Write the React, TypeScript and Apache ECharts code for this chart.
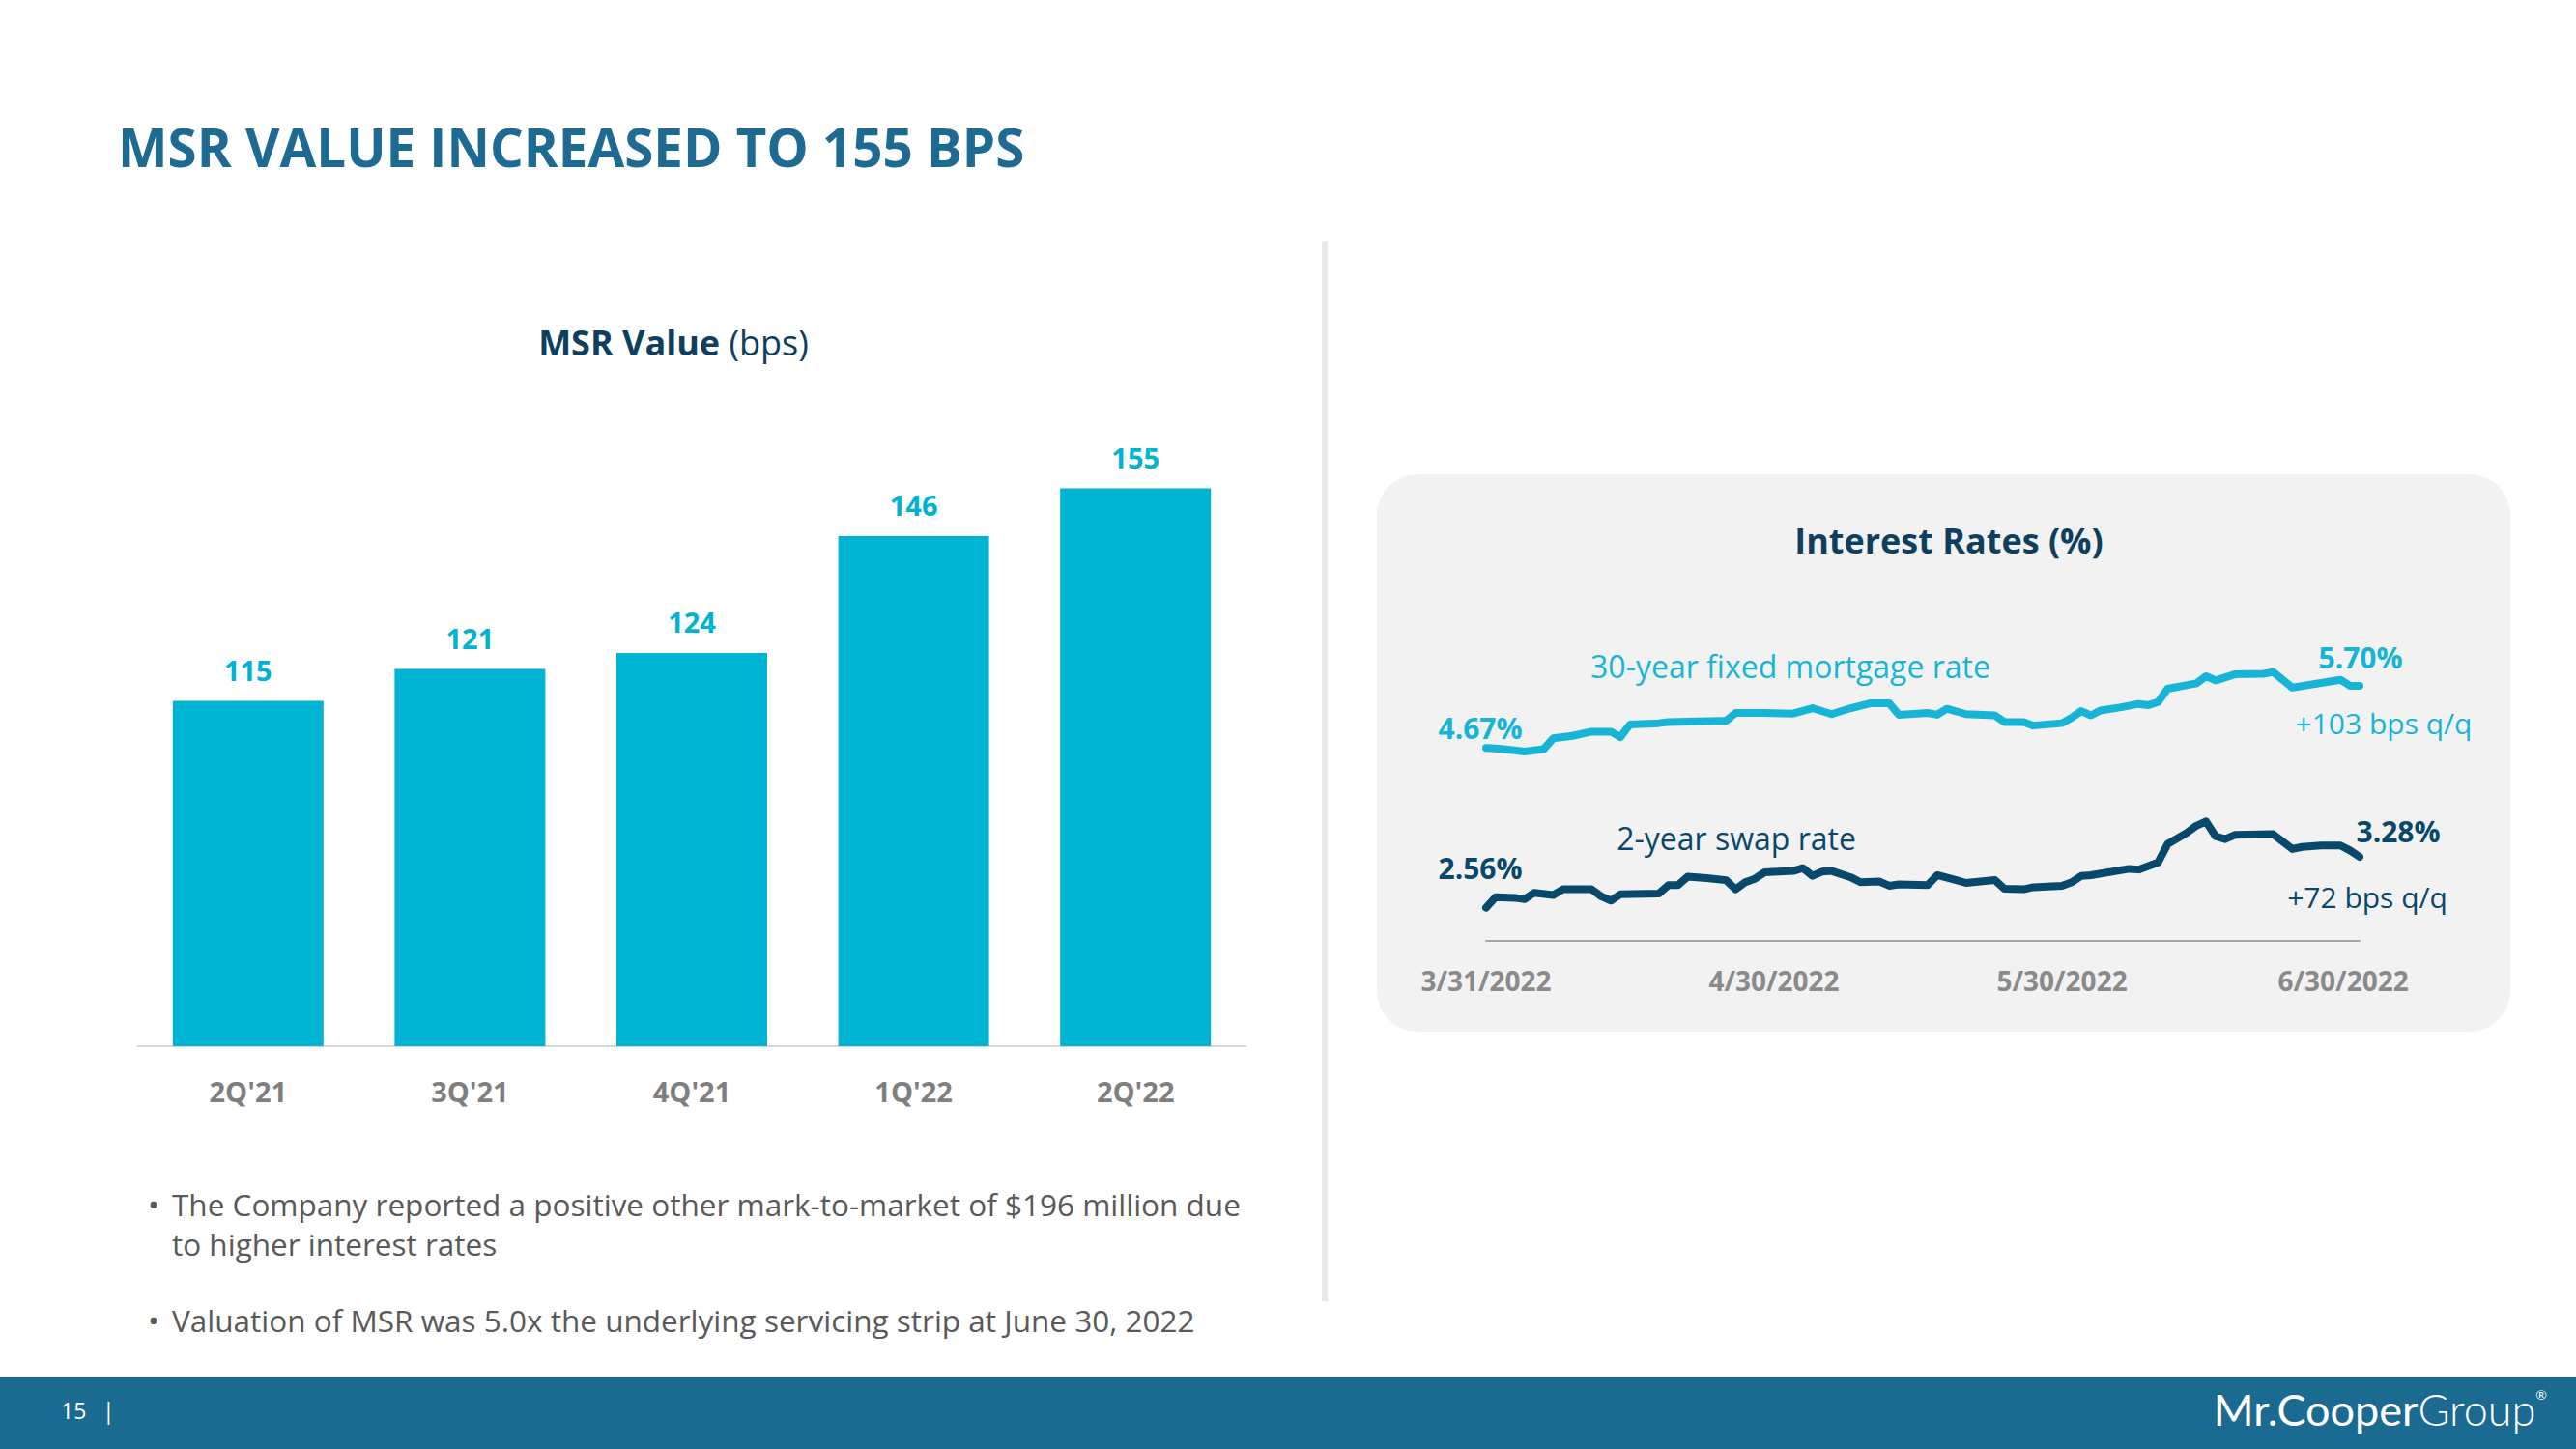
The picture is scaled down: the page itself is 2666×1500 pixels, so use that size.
import React, { useEffect, useRef } from "react";
import * as echarts from "echarts";

// ---------- data ----------
const quarters = ["2Q'21", "3Q'21", "4Q'21", "1Q'22", "2Q'22"];
const msrValues = [115, 121, 124, 146, 155];

const mortgageDates = [
  "2022-03-31", "2022-04-01", "2022-04-03", "2022-04-04", "2022-04-06", "2022-04-07",
  "2022-04-09", "2022-04-11", "2022-04-13", "2022-04-14", "2022-04-15", "2022-04-18",
  "2022-04-19", "2022-04-22", "2022-04-25", "2022-04-26", "2022-04-29", "2022-05-02",
  "2022-05-04", "2022-05-06", "2022-05-08", "2022-05-10", "2022-05-12", "2022-05-13",
  "2022-05-16", "2022-05-17", "2022-05-18", "2022-05-20", "2022-05-23", "2022-05-24",
  "2022-05-26", "2022-05-27", "2022-05-30", "2022-05-31", "2022-06-01", "2022-06-02",
  "2022-06-03", "2022-06-05", "2022-06-07", "2022-06-08", "2022-06-09", "2022-06-10",
  "2022-06-13", "2022-06-14", "2022-06-15", "2022-06-17", "2022-06-20", "2022-06-21",
  "2022-06-23", "2022-06-28", "2022-06-29", "2022-06-30",
];
const mortgageRates = [
  4.67, 4.66, 4.63, 4.61, 4.65, 4.83,
  4.87, 4.94, 4.94, 4.85, 5.06, 5.08,
  5.10, 5.11, 5.12, 5.25, 5.25, 5.24,
  5.33, 5.23, 5.33, 5.41, 5.41, 5.22,
  5.25, 5.22, 5.32, 5.23, 5.21, 5.10,
  5.10, 5.04, 5.08, 5.17, 5.28, 5.21,
  5.29, 5.34, 5.40, 5.38, 5.43, 5.65,
  5.74, 5.86, 5.79, 5.89, 5.90, 5.93,
  5.67, 5.80, 5.70, 5.70,
];

const swapDates = [
  "2022-03-31", "2022-04-01", "2022-04-03", "2022-04-04", "2022-04-05", "2022-04-07",
  "2022-04-08", "2022-04-11", "2022-04-12", "2022-04-13", "2022-04-14", "2022-04-18",
  "2022-04-19", "2022-04-20", "2022-04-21", "2022-04-23", "2022-04-25", "2022-04-26",
  "2022-04-27", "2022-04-28", "2022-04-29", "2022-05-02", "2022-05-03", "2022-05-04",
  "2022-05-05", "2022-05-06", "2022-05-08", "2022-05-09", "2022-05-11", "2022-05-12",
  "2022-05-13", "2022-05-16", "2022-05-17", "2022-05-19", "2022-05-20", "2022-05-23",
  "2022-05-24", "2022-05-26", "2022-05-27", "2022-05-30", "2022-05-31", "2022-06-01",
  "2022-06-02", "2022-06-06", "2022-06-07", "2022-06-09", "2022-06-10", "2022-06-12",
  "2022-06-13", "2022-06-14", "2022-06-15", "2022-06-16", "2022-06-17", "2022-06-21",
  "2022-06-23", "2022-06-24", "2022-06-26", "2022-06-28", "2022-06-29", "2022-06-30",
];
const swapRates = [
  2.56, 2.71, 2.70, 2.68, 2.77, 2.74,
  2.82, 2.82, 2.72, 2.66, 2.75, 2.76,
  2.88, 2.88, 3.00, 2.98, 2.95, 2.82,
  2.92, 2.97, 3.06, 3.08, 3.12, 3.01,
  3.07, 3.08, 2.99, 2.92, 2.93, 2.87,
  2.89, 2.88, 3.02, 2.95, 2.91, 2.95,
  2.83, 2.82, 2.85, 2.87, 2.92, 3.01,
  3.02, 3.11, 3.10, 3.20, 3.46, 3.62,
  3.72, 3.78, 3.57, 3.53, 3.59, 3.60,
  3.39, 3.42, 3.44, 3.44, 3.37, 3.28,
];

const dateTickLabels = ["3/31/2022", "4/30/2022", "5/30/2022", "6/30/2022"];

const bulletLines = [
  "The Company reported a positive other mark-to-market of $196 million due",
  "to higher interest rates",
  "Valuation of MSR was 5.0x the underlying servicing strip at June 30, 2022",
];

// ---------- styles ----------
const FONT = "'Open Sans', 'Noto Sans', sans-serif";
const TITLE_BLUE = "#1D6A93";
const NAVY = "#0E3F5F";
const BAR_CYAN = "#00B3D3";
const LINE_CYAN = "#17B4D7";
const SWAP_NAVY = "#07486B";
const GRAY_LABEL = "#8A8A8A";
const FOOTER = "#1B6A91";

const BASE_DAY = Date.UTC(2022, 2, 31);
const dayOffset = (d: string) => (Date.parse(d + "T00:00:00Z") - BASE_DAY) / 86400000;

function txt(x: number, y: number, text: string, font: string, fill: string, align = "left", extra: any = {}) {
  return {
    type: "text",
    x,
    y,
    z: 10,
    style: { text, font, fill, textAlign: align, textVerticalAlign: "middle", ...extra },
  };
}

export default function App() {
  const ref = useRef<HTMLDivElement>(null);

  useEffect(() => {
    if (!ref.current) return;
    const chart = echarts.init(ref.current, undefined, { renderer: "svg" });

    const mortgageData = mortgageDates.map((d, i) => [dayOffset(d), mortgageRates[i]]);
    const swapData = swapDates.map((d, i) => [dayOffset(d), swapRates[i]]);

    const option: any = {
      animation: false,
      backgroundColor: "#ffffff",
      textStyle: { fontFamily: FONT },
      grid: [
        { left: 142, top: 423, width: 1148, height: 660 },
        { left: 1538, top: 650, width: 904, height: 324 },
      ],
      xAxis: [
        {
          gridIndex: 0,
          type: "category",
          data: quarters,
          axisLine: { show: true, lineStyle: { color: "#D9D9D9", width: 2 } },
          axisTick: { show: false },
          axisLabel: { fontFamily: FONT, fontSize: 29, fontWeight: "bold", color: "#7F7F7F", margin: 32 },
        },
        {
          gridIndex: 1,
          type: "value",
          min: 0,
          max: 91,
          interval: 30,
          splitLine: { show: false },
          axisLine: { show: true, onZero: false, lineStyle: { color: "#A6A6A6", width: 2 } },
          axisTick: { show: false },
          axisLabel: {
            fontFamily: FONT,
            fontSize: 28,
            fontWeight: "bold",
            color: GRAY_LABEL,
            margin: 27,
            formatter: (v: number) => {
              if (v % 30 !== 0) return "";
              const i = Math.round(v / 30);
              const s = dateTickLabels[i] ?? "";
              return i === dateTickLabels.length - 1 ? `{last|${s}}` : s;
            },
            rich: {
              last: {
                fontFamily: FONT,
                fontSize: 28,
                fontWeight: "bold",
                color: GRAY_LABEL,
                padding: [0, 14, 6, 0],
              },
            },
          },
        },
      ],
      yAxis: [
        { gridIndex: 0, type: "value", min: 50, max: 170, show: false, splitLine: { show: false } },
        { gridIndex: 1, type: "value", min: 1.47, max: 6.66, show: false, splitLine: { show: false } },
        { gridIndex: 1, type: "value", min: 2.09, max: 6.52, show: false, splitLine: { show: false } },
      ],
      series: [
        {
          type: "bar",
          xAxisIndex: 0,
          yAxisIndex: 0,
          data: msrValues,
          barWidth: 156,
          itemStyle: { color: BAR_CYAN },
          label: {
            show: true,
            position: "top",
            distance: 18,
            fontFamily: FONT,
            fontSize: 29,
            fontWeight: "bold",
            color: BAR_CYAN,
          },
        },
        {
          type: "line",
          name: "30-year fixed mortgage rate",
          xAxisIndex: 1,
          yAxisIndex: 1,
          data: mortgageData,
          showSymbol: false,
          symbol: "none",
          lineStyle: { color: LINE_CYAN, width: 8, cap: "round", join: "round" },
          z: 5,
        },
        {
          type: "line",
          name: "2-year swap rate",
          xAxisIndex: 1,
          yAxisIndex: 2,
          data: swapData,
          showSymbol: false,
          symbol: "none",
          lineStyle: { color: SWAP_NAVY, width: 8, cap: "round", join: "round" },
          z: 5,
        },
      ],
      graphic: [
        // panel background
        {
          type: "rect",
          z: 0,
          shape: { x: 1425, y: 491, width: 1173, height: 577, r: 42 },
          style: { fill: "#F2F2F2" },
        },
        // divider
        {
          type: "line",
          z: 0,
          shape: { x1: 1371, y1: 250, x2: 1371, y2: 1347 },
          style: { stroke: "#E8E8E8", lineWidth: 6 },
        },
        // footer
        {
          type: "rect",
          z: 0,
          shape: { x: 0, y: 1425, width: 2666, height: 75 },
          style: { fill: FOOTER },
        },
        txt(122, 152, "MSR VALUE INCREASED TO 155 BPS", `bold 54.7px ${FONT}`, TITLE_BLUE),
        {
          type: "text",
          x: 697,
          y: 354,
          z: 10,
          style: {
            text: "{b|MSR Value }{r|(bps)}",
            textAlign: "center",
            textVerticalAlign: "middle",
            rich: {
              b: { fontFamily: FONT, fontSize: 36, fontWeight: "bold", fill: NAVY, color: NAVY },
              r: { fontFamily: FONT, fontSize: 36, fontWeight: "normal", fill: NAVY, color: NAVY },
            },
          },
        },
        txt(2017, 559, "Interest Rates (%)", `bold 36px ${FONT}`, NAVY, "center"),
        txt(1532, 753, "4.67%", `bold 30px ${FONT}`, LINE_CYAN, "center"),
        txt(1853, 689, "30-year fixed mortgage rate", `32px ${FONT}`, LINE_CYAN, "center"),
        txt(2443, 680, "5.70%", `bold 30px ${FONT}`, LINE_CYAN, "center"),
        txt(2467, 748, "+103 bps q/q", `30px ${FONT}`, LINE_CYAN, "center"),
        txt(1532, 898, "2.56%", `bold 30px ${FONT}`, SWAP_NAVY, "center"),
        txt(1797, 867, "2-year swap rate", `32px ${FONT}`, SWAP_NAVY, "center"),
        txt(2482, 860, "3.28%", `bold 30px ${FONT}`, SWAP_NAVY, "center"),
        txt(2450, 928, "+72 bps q/q", `30px ${FONT}`, SWAP_NAVY, "center"),
        // bullets
        txt(153, 1246, "•", `31.5px ${FONT}`, "#595959"),
        txt(178, 1246, bulletLines[0], `31.5px ${FONT}`, "#595959"),
        txt(178, 1287, bulletLines[1], `31.5px ${FONT}`, "#595959"),
        txt(153, 1366, "•", `31.5px ${FONT}`, "#595959"),
        txt(178, 1366, bulletLines[2], `31.5px ${FONT}`, "#595959"),
        // footer texts
        txt(63, 1460, "15", `23px ${FONT}`, "#FFFFFF"),
        txt(106, 1460, "|", `23px ${FONT}`, "#FFFFFF"),
        {
          type: "text",
          x: 2636,
          y: 1459,
          z: 10,
          style: {
            text: "{a|Mr.Cooper}{g|Group}{r|®}",
            textAlign: "right",
            textVerticalAlign: "middle",
            rich: {
              a: { fontFamily: "Lato, sans-serif", fontSize: 45, fontWeight: "normal", fill: "#FFFFFF", color: "#FFFFFF" },
              g: { fontFamily: "Lato, sans-serif", fontSize: 45, fontWeight: 300, fill: "#FFFFFF", color: "#FFFFFF" },
              r: { fontFamily: "Lato, sans-serif", fontSize: 14, fill: "#FFFFFF", color: "#FFFFFF", verticalAlign: "top", padding: [0, 0, 18, 0] },
            },
          },
        },
      ],
    };

    chart.setOption(option);
    return () => chart.dispose();
  }, []);

  return (
    <div
      ref={ref}
      style={{ position: "absolute", left: 0, top: 0, width: 2666, height: 1500, background: "#ffffff" }}
    />
  );
}
